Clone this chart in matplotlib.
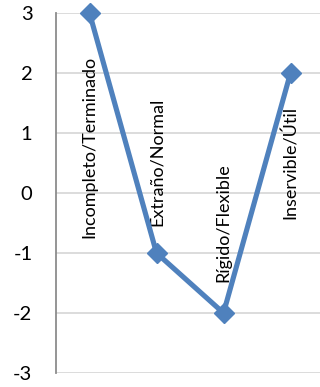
import matplotlib
matplotlib.use("Agg")
import matplotlib.pyplot as plt

categories = ["Incompleto/Terminado", "Extraño/Normal", "Rígido/Flexible", "Inservible/Útil"]
values = [3, -1, -2, 2]
# vertical position (data units) of the bottom end of each rotated label
label_bottoms = [-0.75, -0.55, -1.48, -0.43]
yticks = [-3, -2, -1, 0, 1, 2, 3]

plt.rcParams["font.family"] = ["Lato", "DejaVu Sans"]

W, H, DPI = 320, 387, 100
fig = plt.figure(figsize=(W / DPI, H / DPI), dpi=DPI)
ax = fig.add_axes([56 / W, 14 / H, 268 / W, 360 / H])

x = list(range(len(categories)))
ax.plot(x, values, color="#4F81BD", lw=3.7, marker="D", ms=10.5,
        markerfacecolor="#4F81BD", markeredgecolor="#4F81BD",
        clip_on=False, zorder=3)

ax.set_xlim(-0.5, len(categories) - 0.5)
ax.set_ylim(-3, 3)
ax.set_yticks(yticks)
ax.set_yticklabels([str(v) for v in yticks], fontsize=14.5)
ax.tick_params(axis="y", length=0, pad=17)
ax.set_xticks([])

ax.yaxis.grid(True, color="#D9D9D9", lw=1.3)
ax.set_axisbelow(True)
for side in ("top", "right", "bottom"):
    ax.spines[side].set_visible(False)
ax.spines["left"].set_color("#8C8C8C")
ax.spines["left"].set_linewidth(1.3)

for xi, name, yb in zip(x, categories, label_bottoms):
    ax.text(xi, yb, name, rotation=90, ha="center", va="bottom",
            fontsize=13, color="black", zorder=2)

fig.savefig("out.png", dpi=DPI)
